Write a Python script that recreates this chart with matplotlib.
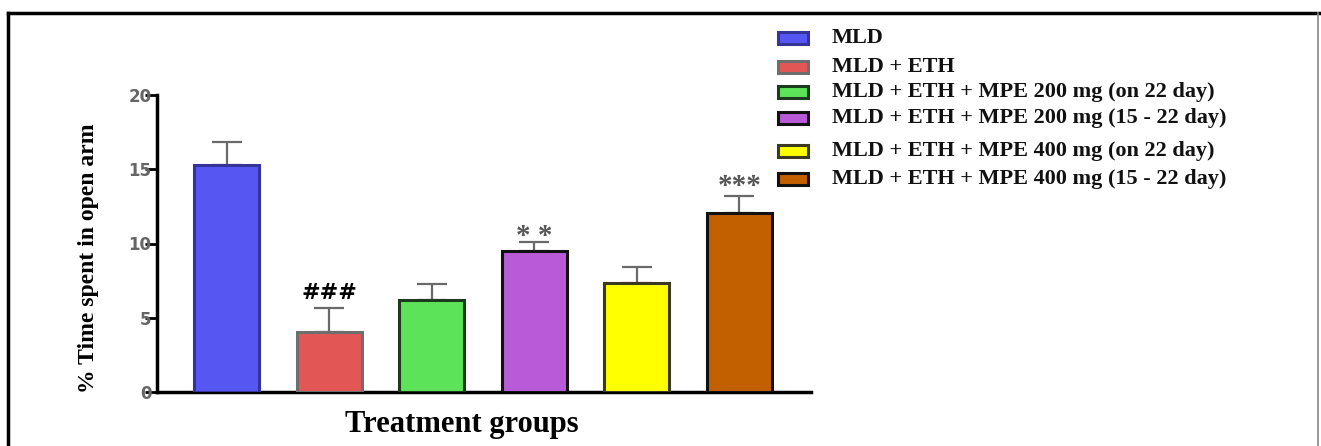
import matplotlib
matplotlib.use('Agg')
import matplotlib.pyplot as plt
from matplotlib.patches import Rectangle
from matplotlib.lines import Line2D

# Group means and upper SEM (% time in open arm)
groups = [
    'MLD',
    'MLD + ETH',
    'MLD + ETH + MPE 200 mg (on 22 day)',
    'MLD + ETH + MPE 200 mg (15 - 22 day)',
    'MLD + ETH + MPE 400 mg (on 22 day)',
    'MLD + ETH + MPE 400 mg (15 - 22 day)',
]
means = [15.3, 4.05, 6.2, 9.5, 7.35, 12.05]
sem = [1.55, 1.6, 1.07, 0.6, 1.08, 1.15]
marks = ['', '###', '', '* *', '', '***']

fills = ['#5656f2', '#e35656', '#5ce35a', '#b95ad8', '#ffff00', '#c26000']
edges = ['#33339a', '#6e6e6e', '#1d3a1d', '#111111', '#3a3a20', '#111111']

W, H = 1321, 446
fig = plt.figure(figsize=(W / 100, H / 100), dpi=100)
serif = 'Liberation Serif'

ax = fig.add_axes([157 / W, 54 / H, 654 / W, 297 / H])
x = list(range(len(means)))
ax.bar(x, means, width=0.63, color=fills, edgecolor=edges, linewidth=2.2, zorder=3)
ax.errorbar(x, means, yerr=[[0] * len(sem), sem], fmt='none', ecolor='#6a6a6a',
            elinewidth=1.6, capsize=11, capthick=1.6, zorder=2)

# significance marks above the error caps
star_lift = {'* *': -6, '***': -3}
for xi, m, s, t in zip(x, means, sem, marks):
    if t == '###':
        ax.annotate(t, (xi, m + s), xytext=(0, 11), textcoords='offset points',
                    ha='center', va='center', fontsize=16, fontweight='bold',
                    family='DejaVu Sans', color='black')
    elif t:
        ax.annotate(t, (xi, m + s), xytext=(0, star_lift[t]),
                    textcoords='offset points', ha='center', va='bottom',
                    fontsize=21, fontweight='bold', family=serif, color='#555555')

ax.set_xlim(-0.68, 5.7)
ax.set_ylim(0, 20)
ax.set_yticks([0, 5, 10, 15, 20])
ax.set_xticks([])
for side in ('top', 'right'):
    ax.spines[side].set_visible(False)
for side in ('left', 'bottom'):
    ax.spines[side].set_linewidth(2.5)
    ax.spines[side].set_color('black')
ax.tick_params(axis='y', length=9, width=2, color='black', pad=-5,
               labelsize=12, labelcolor='#666666')
for lab in ax.get_yticklabels():
    lab.set_fontweight('bold')
    lab.set_zorder(1)
ax.set_ylabel('% Time spent in open arm', family=serif, fontweight='bold',
              fontsize=17)
ax.set_xlabel('Treatment groups', family=serif, fontweight='bold', fontsize=22)
ax.xaxis.set_label_coords((462 - 157) / 654, -0.062)
ax.yaxis.set_label_coords((99 - 157) / 654, 0.45)

# Legend drawn by hand so rows sit at their own heights
row_y = [38, 67, 92, 118, 151, 179]
for name, fc, ec, yy in zip(groups, fills, edges, row_y):
    fig.add_artist(Rectangle((778 / W, 1 - (yy + 6) / H), 30 / W, 12 / H,
                             facecolor=fc, edgecolor=ec, linewidth=2.2,
                             transform=fig.transFigure))
    fig.text(832 / W, 1 - yy / H, name, family=serif, fontweight='bold',
             fontsize=16, ha='left', va='center', color='#111111')

# Frame around the figure
fig.add_artist(Line2D([8 / W, 1], [1 - 13 / H] * 2, color='black', lw=2.5,
                      transform=fig.transFigure))
fig.add_artist(Line2D([8 / W] * 2, [0, 1 - 13 / H], color='black', lw=2.5,
                      transform=fig.transFigure))
fig.add_artist(Line2D([1318 / W] * 2, [0, 1 - 13 / H], color='#888888', lw=1.2,
                      transform=fig.transFigure))

fig.savefig('out.png', dpi=100, facecolor='white')
